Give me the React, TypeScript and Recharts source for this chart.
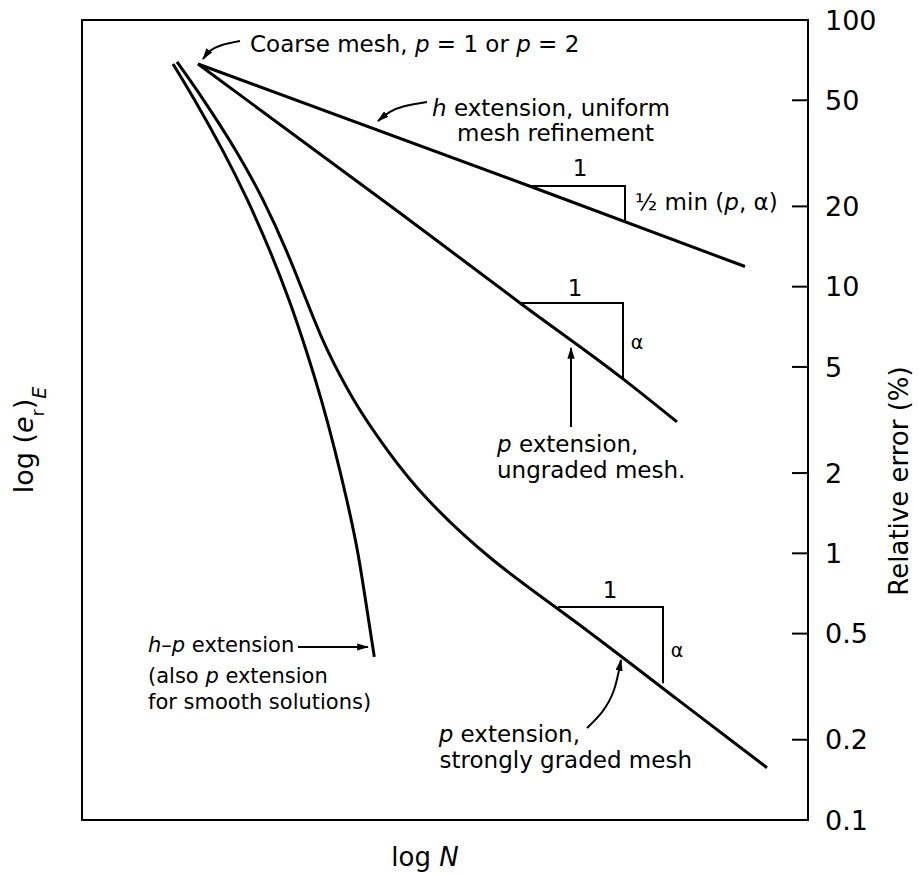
import { ComposedChart, Line, XAxis, YAxis, ReferenceArea } from "recharts";

// x is an unlabelled "log N" axis (arbitrary units), y is relative error in %
const hExtension = [
  { x: 116, y: 68.4 }, { x: 448, y: 23.8 }, { x: 663, y: 11.9 },
];
const pUngraded = [
  { x: 116, y: 68.4 }, { x: 318, y: 18.9 }, { x: 438, y: 8.69 },
  { x: 541, y: 4.51 }, { x: 595, y: 3.11 },
];
const pGraded = [
  { x: 95, y: 69.6 }, { x: 121.6, y: 50.1 }, { x: 153.6, y: 32.5 }, { x: 181.1, y: 21.1 },
  { x: 204.1, y: 13.72 }, { x: 220.3, y: 9.72 }, { x: 232.3, y: 7.5 }, { x: 245.3, y: 5.79 },
  { x: 271.8, y: 3.76 }, { x: 305.3, y: 2.44 }, { x: 346.3, y: 1.585 }, { x: 411, y: 0.944 },
  { x: 491, y: 0.562 }, { x: 596, y: 0.282 }, { x: 685, y: 0.157 },
];
const hpExtension = [
  { x: 91, y: 68.4 }, { x: 112.6, y: 50.1 }, { x: 140.5, y: 32.5 }, { x: 165.5, y: 21.1 },
  { x: 187.5, y: 13.72 }, { x: 207, y: 8.91 }, { x: 224, y: 5.79 }, { x: 239.3, y: 3.76 },
  { x: 252.8, y: 2.44 }, { x: 264.8, y: 1.585 }, { x: 275.3, y: 1.029 }, { x: 283.5, y: 0.668 },
  { x: 292.3, y: 0.409 },
];

// slope triangles
const triH = [{ x: 448, y: 23.85 }, { x: 543, y: 23.85 }, { x: 543, y: 17.63 }];
const triUngraded = [{ x: 438, y: 8.69 }, { x: 541, y: 8.69 }, { x: 541, y: 4.51 }];
const triGraded = [{ x: 476, y: 0.629 }, { x: 581, y: 0.629 }, { x: 581, y: 0.326 }];

// annotation arrows
const arrowCoarse = [{ x: 158, y: 83.4 }, { x: 140, y: 80.6 }, { x: 128, y: 76.5 }, { x: 121, y: 71.4 }];
const arrowH = [{ x: 345, y: 49.3 }, { x: 323, y: 47.6 }, { x: 308, y: 45.2 }, { x: 296, y: 41.8 }];
const arrowUngraded = [{ x: 489, y: 2.98 }, { x: 489, y: 5.89 }];
const arrowHp = [{ x: 216, y: 0.4454 }, { x: 286, y: 0.4454 }];
const arrowGraded = [{ x: 505, y: 0.2213 }, { x: 520, y: 0.254 }, { x: 532, y: 0.3073 }, { x: 539, y: 0.398 }];

const yTicks = [100, 50, 20, 10, 5, 2, 1, 0.5, 0.2, 0.1];

const FONT = "'DejaVu Sans', sans-serif";
const W = 919;
const H = 875;

// tick marks point inwards, labels sit outside the frame
// eslint-disable-next-line @typescript-eslint/no-explicit-any
function RightTick({ x, y, payload }: any) {
  return (
    <g>
      <line x1={x - 16} x2={x} y1={y} y2={y} stroke="#000" strokeWidth={2} />
      <text x={x + 17} y={y} dy="0.36em" fontSize={27} fontFamily={FONT} fill="#000">
        {payload.value}
      </text>
    </g>
  );
}

const curve = { stroke: "#000", dot: false, activeDot: false, isAnimationActive: false } as const;

export default function App() {
  return (
    <div style={{ position: "absolute", left: 0, top: 0, width: W, height: H, background: "#fff" }}>
      <ComposedChart width={W} height={H} margin={{ top: 20, right: 51, bottom: 55, left: 82 }}>
        <XAxis dataKey="x" type="number" domain={[0, 726]} hide allowDataOverflow />
        <YAxis
          orientation="right"
          scale="log"
          type="number"
          domain={[0.1, 100]}
          ticks={yTicks}
          interval={0}
          width={60}
          tickSize={0}
          tickMargin={0}
          tickLine={false}
          axisLine={{ stroke: "#000", strokeWidth: 2 }}
          tick={<RightTick />}
          allowDataOverflow
        />
        <ReferenceArea x1={0} x2={726} y1={0.1} y2={100} fill="none" stroke="#000" strokeWidth={2} ifOverflow="visible" />

        <Line {...curve} data={hExtension} dataKey="y" type="linear" strokeWidth={3} />
        <Line {...curve} data={pUngraded} dataKey="y" type="monotone" strokeWidth={3} />
        <Line {...curve} data={pGraded} dataKey="y" type="natural" strokeWidth={3} />
        <Line {...curve} data={hpExtension} dataKey="y" type="natural" strokeWidth={3} />

        <Line {...curve} data={triH} dataKey="y" type="linear" strokeWidth={2} />
        <Line {...curve} data={triUngraded} dataKey="y" type="linear" strokeWidth={2} />
        <Line {...curve} data={triGraded} dataKey="y" type="linear" strokeWidth={2} />

        <Line {...curve} data={arrowCoarse} dataKey="y" type="natural" strokeWidth={2} markerEnd="url(#arrowhead)" />
        <Line {...curve} data={arrowH} dataKey="y" type="natural" strokeWidth={2} markerEnd="url(#arrowhead)" />
        <Line {...curve} data={arrowUngraded} dataKey="y" type="linear" strokeWidth={2} markerEnd="url(#arrowhead)" />
        <Line {...curve} data={arrowHp} dataKey="y" type="linear" strokeWidth={2} markerEnd="url(#arrowhead)" />
        <Line {...curve} data={arrowGraded} dataKey="y" type="natural" strokeWidth={2} markerEnd="url(#arrowhead)" />
      </ComposedChart>

      {/* annotation text */}
      <svg
        width={W}
        height={H}
        style={{ position: "absolute", left: 0, top: 0, pointerEvents: "none" }}
        fontFamily={FONT}
        fill="#000"
      >
        <defs>
          <marker id="arrowhead" viewBox="0 0 10 6" refX="9" refY="3" markerWidth="6" markerHeight="3.6" orient="auto">
            <path d="M0,0 L10,3 L0,6 z" fill="#000" />
          </marker>
        </defs>

        <text x={250} y={52} fontSize={23}>
          Coarse mesh, <tspan fontStyle="italic">p</tspan> = 1 or <tspan fontStyle="italic">p</tspan> = 2
        </text>

        <text x={432} y={116} fontSize={23}>
          <tspan fontStyle="italic">h</tspan> extension, uniform
        </text>
        <text x={654} y={141} fontSize={23} textAnchor="end">mesh refinement</text>
        <text x={580} y={176} fontSize={23} textAnchor="middle">1</text>
        <text x={635} y={210} fontSize={23}>
          ½ min (<tspan fontStyle="italic">p</tspan>, α)
        </text>

        <text x={575} y={296} fontSize={23} textAnchor="middle">1</text>
        <text x={637} y={349} fontSize={19} textAnchor="middle">α</text>
        <text x={497} y={452} fontSize={23}>
          <tspan fontStyle="italic">p</tspan> extension,
        </text>
        <text x={497} y={478} fontSize={23}>ungraded mesh.</text>

        <text x={610} y={598} fontSize={23} textAnchor="middle">1</text>
        <text x={677} y={657} fontSize={19} textAnchor="middle">α</text>
        <text x={580} y={742} fontSize={23} textAnchor="end">
          <tspan fontStyle="italic">p</tspan> extension,
        </text>
        <text x={692} y={768} fontSize={23} textAnchor="end">strongly graded mesh</text>

        <text x={148} y={652} fontSize={21}>
          <tspan fontStyle="italic">h</tspan>–<tspan fontStyle="italic">p</tspan> extension
        </text>
        <text x={148} y={683} fontSize={21}>
          (also <tspan fontStyle="italic">p</tspan> extension
        </text>
        <text x={148} y={709} fontSize={21}>for smooth solutions)</text>

        <text x={425} y={866} fontSize={26} textAnchor="middle">
          log <tspan fontStyle="italic">N</tspan>
        </text>
        <text x={908} y={481} fontSize={26} textAnchor="middle" transform="rotate(-90 908 481)">
          Relative error (%)
        </text>
        <text x={33} y={440} fontSize={27} textAnchor="middle" transform="rotate(-90 33 440)">
          log (<tspan fontStyle="italic">e</tspan>
          <tspan dy={11} fontSize={17}>r</tspan>
          <tspan dy={-11}>)</tspan>
          <tspan dy={13} fontSize={19} fontStyle="italic">E</tspan>
        </text>
      </svg>
    </div>
  );
}
